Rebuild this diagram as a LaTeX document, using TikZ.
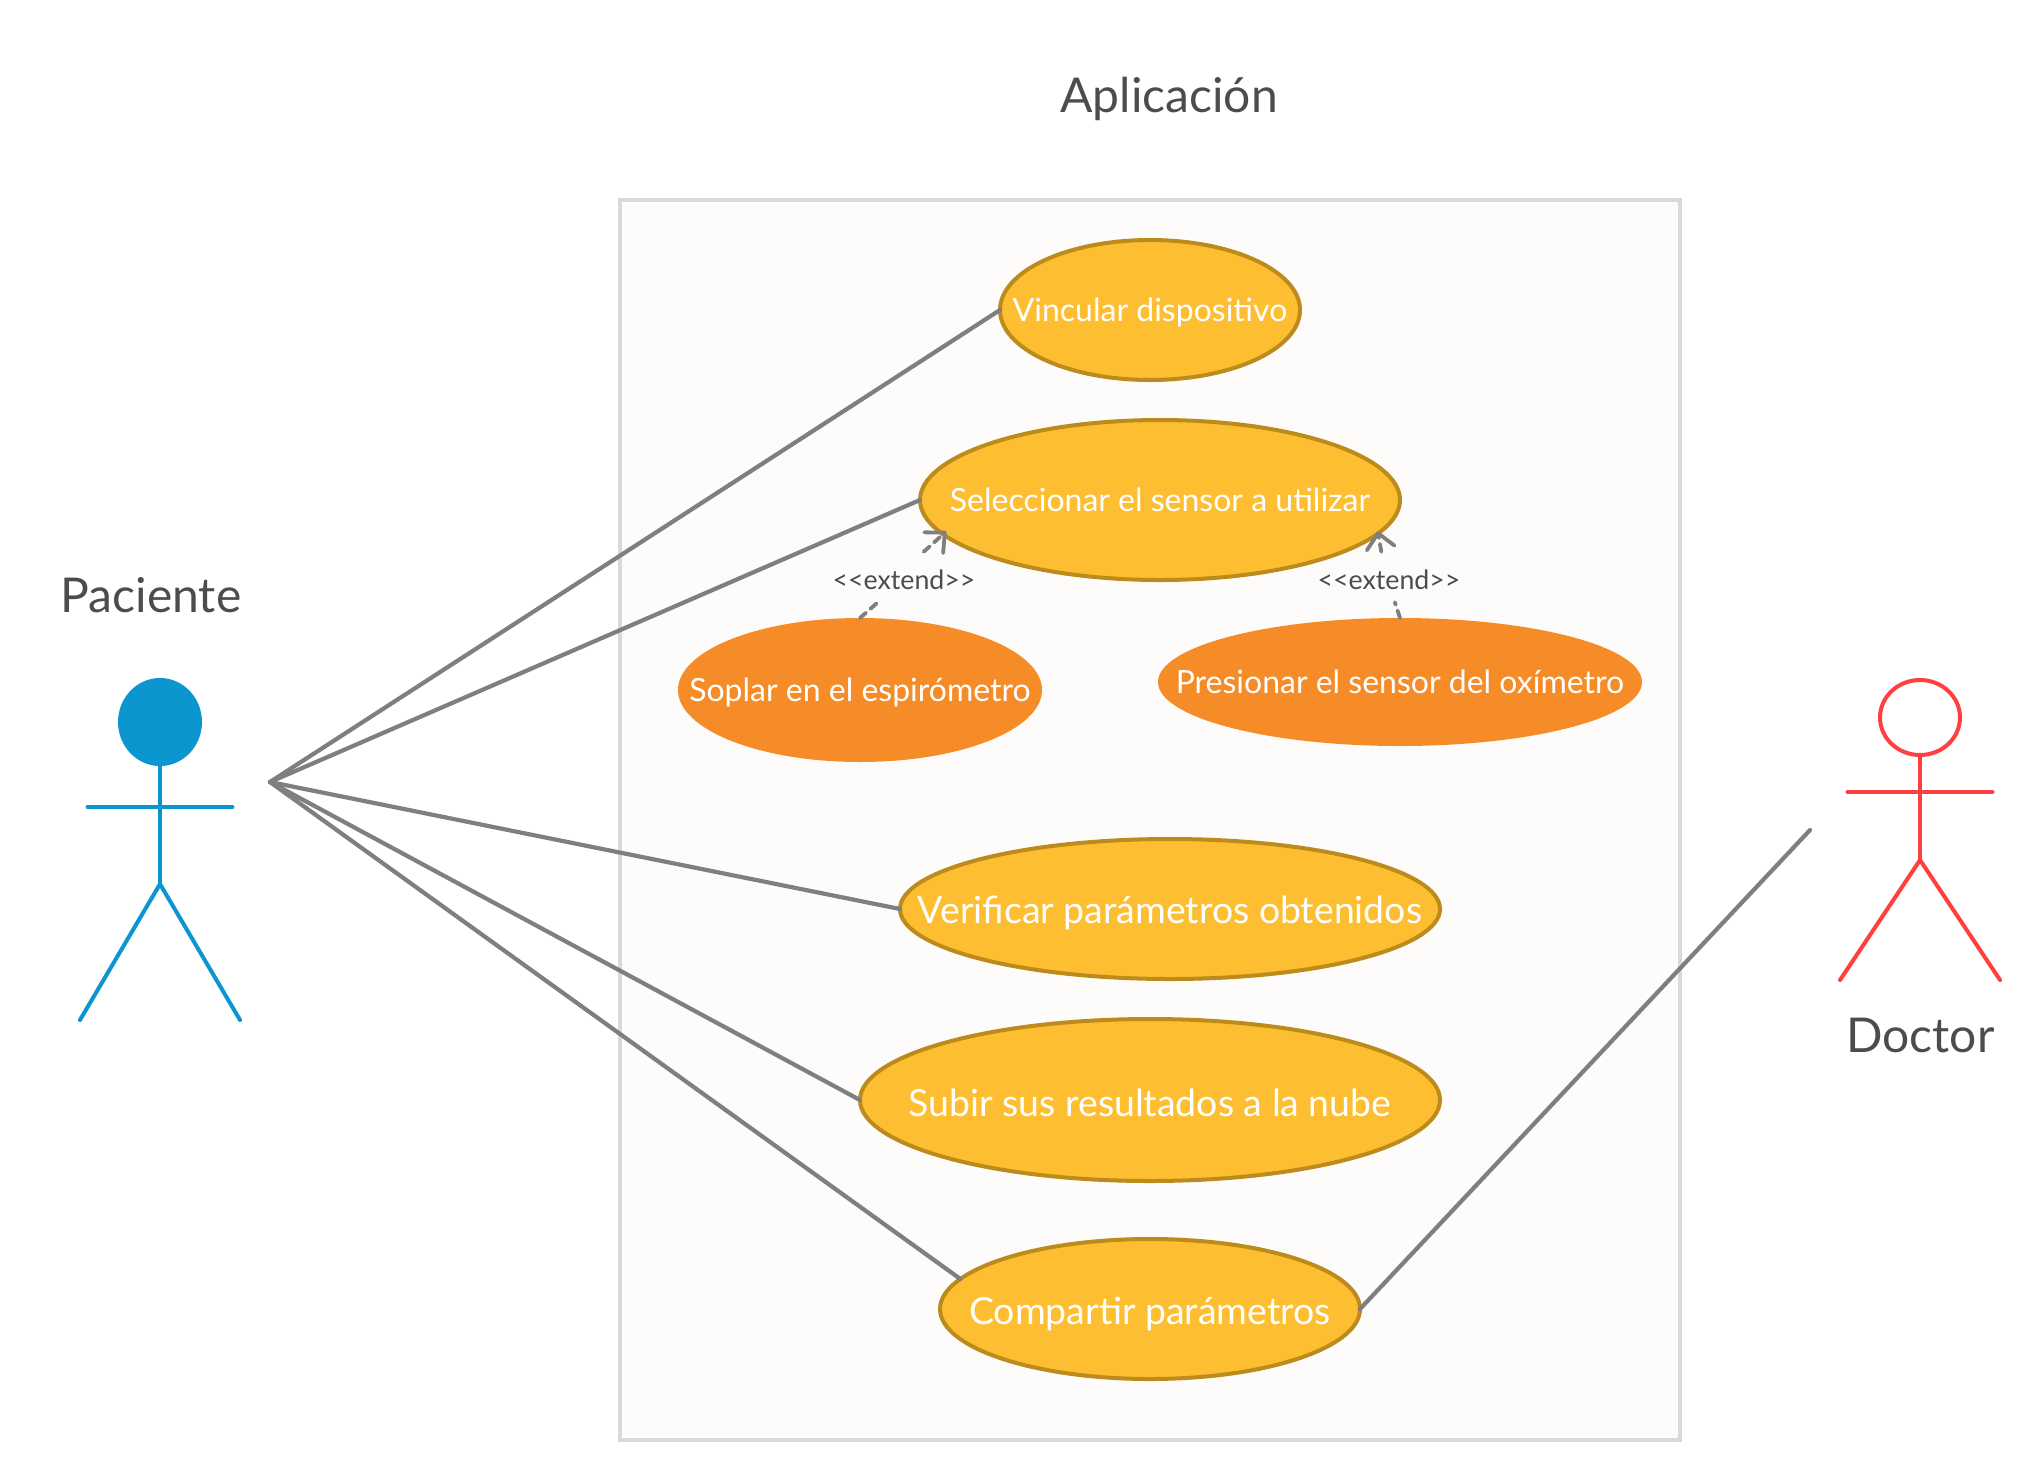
\documentclass[tikz,border=0pt]{standalone}
\usepackage{fontspec}
\setmainfont{Lato}
\usetikzlibrary{shapes.geometric,arrows.meta}
\definecolor{framefill}{HTML}{FDFCFB}
\definecolor{frameline}{HTML}{D9D9D9}
\definecolor{ucfill}{HTML}{FEBE32}
\definecolor{ucline}{HTML}{BC8B1C}
\definecolor{orfill}{HTML}{F68C28}
\definecolor{conn}{HTML}{7F7F7F}
\definecolor{ink}{HTML}{4C4C4C}
\definecolor{actblue}{HTML}{0C96D0}
\definecolor{actred}{HTML}{FF4040}
\newcommand{\ctext}[3]{\raisebox{#2}[0pt][0pt]{\makebox[0pt]{\fontsize{#1}{#1}\selectfont #3}}}
\tikzset{
  x=1pt,y=-1pt,
  usecase/.style={ellipse,inner sep=0pt,outer sep=0pt,text=white,fill=ucfill,draw=ucline,line width=4pt},
  extcase/.style={ellipse,inner sep=0pt,outer sep=0pt,text=white,fill=orfill},
  title/.style={text=ink,inner sep=0pt,anchor=base},
  assoc/.style={draw=conn,line width=4.2pt,line cap=round},
  extendline/.style={draw=conn,line width=3.8pt,line cap=round,dash pattern=on 8pt off 6pt},
  extendtip/.style={-{Straight Barb[length=15pt,width=28pt,line width=3.8pt,round]}},
  extlabel/.style={text=ink,inner sep=0pt,minimum width=145pt,minimum height=50pt,text height=37.5pt,text depth=12.5pt,align=center},
  limb/.style={line width=4pt,line cap=round},
}
\begin{document}
\begin{tikzpicture}
\useasboundingbox[fill=white] (0,0) rectangle (2041,1480);
\node[title,font=\fontsize{48}{48}\selectfont] (tapp) at (1169,112) {Aplicación};
\node[title,font=\fontsize{48}{48}\selectfont] (tpac) at (151,612) {Paciente};
\node[title,font=\fontsize{48}{48}\selectfont] (tdoc) at (1920.5,1052) {Doctor};
\node[draw=frameline,fill=framefill,line width=4pt,minimum width=1060pt,minimum height=1240pt,inner sep=0pt] (frame) at (1150,819.5) {};

\node[usecase,minimum width=300pt,minimum height=140pt] (vin) at (1150,310) {\ctext{32}{-11.8pt}{Vincular dispositivo}};
\node[usecase,minimum width=480pt,minimum height=160pt] (sel) at (1160,500) {\ctext{32}{-11.5pt}{Seleccionar el sensor a utilizar}};
\node[extcase,minimum width=364pt,minimum height=144pt] (sop) at (860,690) {\ctext{32}{-11.5pt}{Soplar en el espirómetro}};
\node[extcase,minimum width=484pt,minimum height=128pt] (pre) at (1400,682) {\ctext{32}{-11.5pt}{Presionar el sensor del oxímetro}};
\node[usecase,minimum width=540pt,minimum height=140pt] (ver) at (1170,909) {\ctext{37.4}{-14.6pt}{Verificar parámetros obtenidos}};
\node[usecase,minimum width=580pt,minimum height=162pt] (sub) at (1150,1100) {\ctext{37.4}{-16pt}{Subir sus resultados a la nube}};
\node[usecase,minimum width=420pt,minimum height=140pt] (com) at (1150,1309) {\ctext{37.4}{-15pt}{Compartir parámetros}};

\node[extlabel,font=\fontsize{26.7}{26.7}\selectfont] (ext1) at (904,577) {<{}<extend>{}>};
\node[extlabel,font=\fontsize{26.7}{26.7}\selectfont] (ext2) at (1389,577) {<{}<extend>{}>};

% Paciente
\node[ellipse,fill=actblue,minimum width=84pt,minimum height=88pt,inner sep=0pt,outer sep=0pt] (phead) at (160,722) {};
\coordinate (phip) at (160,884);
\coordinate (parml) at (87.5,807);
\coordinate (parmr) at (232.5,807);
\coordinate (plegl) at (80,1020);
\coordinate (plegr) at (240,1020);
\draw[limb,draw=actblue] (phead.south) -- (phip);
\draw[limb,draw=actblue] (parml) -- (parmr);
\draw[limb,draw=actblue] (plegl) -- (phip) -- (plegr);

% Doctor
\node[ellipse,draw=actred,line width=4pt,minimum width=80pt,minimum height=75pt,inner sep=0pt,outer sep=0pt] (dhead) at (1920,717.5) {};
\coordinate (dhip) at (1920,860);
\coordinate (darml) at (1847.5,792);
\coordinate (darmr) at (1992.5,792);
\coordinate (dlegl) at (1840,980);
\coordinate (dlegr) at (2000,980);
\draw[limb,draw=actred] (dhead.south) -- (dhip);
\draw[limb,draw=actred] (darml) -- (darmr);
\draw[limb,draw=actred] (dlegl) -- (dhip) -- (dlegr);

% associations
\coordinate (hub) at (270,782);
\coordinate (dhand) at (1810,830);
\draw[assoc] (hub) -- (vin.west);
\draw[assoc] (hub) -- (sel.west);
\draw[assoc] (hub) -- (ver.west);
\draw[assoc] (hub) -- (sub.west);
\draw[assoc] (hub) -- (com.171);
\draw[assoc] (com.east) -- (dhand);

% extend
\draw[extendline] (sop.north) -- (ext1.224);
\draw[extendline,extendtip] (ext1.52.8) -- ([shift={(3,-3)}]sel.189);
\draw[extendline] (pre.north) -- (ext2.283.5);
\draw[extendline,extendtip] (ext2.107.8) -- ([shift={(1,-3)}]sel.351);
\end{tikzpicture}
\end{document}
